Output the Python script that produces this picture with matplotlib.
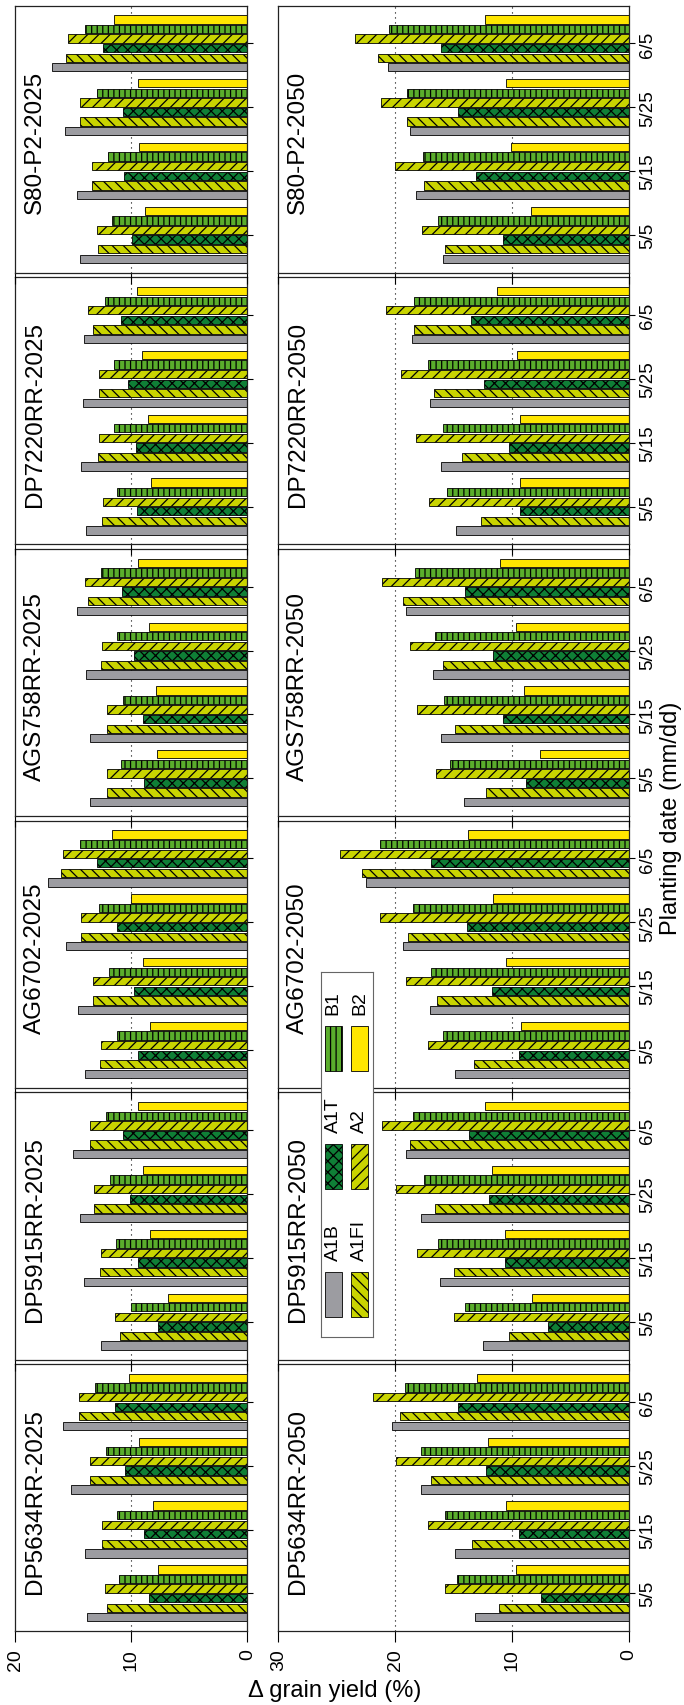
import matplotlib
matplotlib.use('Agg')
import matplotlib.pyplot as plt
from matplotlib.patches import Rectangle

plt.rcParams['font.family'] = ['Liberation Sans', 'DejaVu Sans']
plt.rcParams['hatch.linewidth'] = 0.9

# cultivars from left to right in the unrotated figure (bottom to top here)
cultivars = ['DP5634RR', 'DP5915RR', 'AG6702', 'AGS758RR', 'DP7220RR', 'S80-P2']
dates = ['5/5', '5/15', '5/25', '6/5']
scenarios = ['A1B', 'A1FI', 'A1T', 'A2', 'B1', 'B2']
years = ['2025', '2050']

# delta grain yield (%), one row per cultivar, one value per planting date
a1b_2025 = [[13.8, 14.0, 15.2, 15.9], [12.6, 14.1, 14.4, 15.0], [14.0, 14.6, 15.6, 17.2],
            [13.6, 13.6, 13.9, 14.7], [13.9, 14.3, 14.2, 14.1], [14.4, 14.7, 15.7, 16.8]]
a1fi_2025 = [[12.1, 12.5, 13.6, 14.5], [11.0, 12.7, 13.2, 13.6], [12.7, 13.3, 14.3, 16.1],
             [12.1, 12.1, 12.6, 13.7], [12.5, 12.9, 12.8, 13.3], [12.9, 13.4, 14.4, 15.6]]
a1t_2025 = [[8.5, 8.9, 10.5, 11.4], [7.7, 9.4, 10.1, 10.7], [9.4, 9.8, 11.2, 13.0],
            [8.9, 9.0, 9.8, 10.8], [9.5, 9.6, 10.3, 10.9], [9.9, 10.6, 10.7, 12.4]]
a2_2025 = [[12.3, 12.5, 13.6, 14.5], [11.4, 12.6, 13.2, 13.6], [12.6, 13.3, 14.3, 15.9],
           [12.1, 12.1, 12.5, 14.0], [12.4, 12.8, 12.8, 13.7], [13.0, 13.4, 14.4, 15.5]]
b1_2025 = [[11.1, 11.2, 12.2, 13.1], [10.0, 11.3, 11.8, 12.2], [11.2, 11.9, 12.8, 14.4],
           [10.9, 10.7, 11.2, 12.6], [11.2, 11.5, 11.5, 12.3], [11.7, 12.0, 13.0, 14.0]]
b2_2025 = [[7.7, 8.1, 9.3, 10.2], [6.8, 8.4, 9.0, 9.4], [8.4, 9.0, 10.0, 11.7],
           [7.8, 7.9, 8.5, 9.4], [8.3, 8.6, 9.1, 9.5], [8.8, 9.3, 9.4, 11.5]]

a1b_2050 = [[13.2, 14.9, 17.8, 20.3], [12.5, 16.2, 17.8, 19.1], [14.9, 17.0, 19.3, 22.5],
            [14.1, 16.1, 16.8, 19.1], [14.8, 16.1, 17.0, 18.6], [15.9, 18.2, 18.7, 20.6]]
a1fi_2050 = [[11.1, 13.4, 16.9, 19.6], [10.3, 15.0, 16.6, 18.7], [13.3, 16.4, 18.9, 22.8],
             [12.2, 14.9, 15.9, 19.3], [12.7, 14.3, 16.7, 18.4], [15.7, 17.5, 19.0, 21.5]]
a1t_2050 = [[7.5, 9.4, 12.2, 14.6], [6.9, 10.6, 12.0, 13.7], [9.4, 11.7, 13.9, 16.9],
            [8.8, 10.8, 11.6, 14.0], [9.3, 10.3, 12.4, 13.5], [10.8, 13.1, 14.6, 16.1]]
a2_2050 = [[15.7, 17.2, 19.9, 21.9], [15.0, 18.1, 19.9, 21.1], [17.2, 19.1, 21.3, 24.7],
           [16.5, 18.1, 18.7, 21.1], [17.1, 18.2, 19.5, 20.8], [17.7, 20.0, 21.2, 23.4]]
b1_2050 = [[14.7, 15.7, 17.8, 19.2], [14.0, 16.3, 17.5, 18.5], [15.9, 16.9, 18.5, 21.3],
           [15.3, 15.8, 16.6, 18.3], [15.6, 15.9, 17.2, 18.4], [16.3, 17.6, 19.0, 20.5]]
b2_2050 = [[9.7, 10.5, 12.1, 13.0], [8.3, 10.6, 11.7, 12.3], [9.2, 10.5, 11.6, 13.8],
           [7.6, 9.0, 9.7, 11.0], [9.3, 9.3, 9.6, 11.3], [8.4, 10.1, 10.5, 12.3]]

data = {'2025': [a1b_2025, a1fi_2025, a1t_2025, a2_2025, b1_2025, b2_2025],
        '2050': [a1b_2050, a1fi_2050, a1t_2050, a2_2050, b1_2050, b2_2050]}

colors = ['#9c9ca1', '#c9d400', '#0f7f36', '#c9d400', '#5aad2c', '#ffe600']
hatches = [None, '\\\\\\', 'xxx', '///', '|||', None]

W, H = 684, 1706
fig = plt.figure(figsize=(W / 100, H / 100), dpi=100)

# column layout in pixels: (left, width, max of value axis)
cols = {'2025': (15.3, 232.0, 20), '2050': (278.3, 350.7, 30)}
top_px, gap_px, ph = 6.5, 4.5, 267.2
step, bh = 0.15, 0.13


def draw_panel(ax, year, ci):
    xmax = cols[year][2]
    for j in range(len(scenarios)):
        vals = data[year][j][ci]
        ax.barh([d + (j - 2.5) * step for d in range(len(dates))], vals, height=bh,
                color=colors[j], hatch=hatches[j], edgecolor='black', linewidth=0.6, zorder=2)
    for v in range(10, xmax, 10):
        ax.axvline(v, color='black', linestyle=(0, (1, 3.5)), linewidth=0.8, zorder=0)
    ax.set_xlim(xmax, 0)
    ax.set_ylim(-0.594, 3.594)
    ax.set_xticks(range(0, xmax + 1, 10))
    ax.set_yticks(range(len(dates)))
    ax.yaxis.tick_right()
    ax.tick_params(axis='x', direction='out', length=8, width=0.8, top=False,
                   labelbottom=(ci == 0), labelsize=14, labelrotation=90, pad=4)
    ax.tick_params(axis='y', direction='out', length=4, width=0.8, left=False,
                   labelright=(year == '2050'), labelsize=13.5, labelrotation=90, pad=3.5)
    for lab in ax.get_yticklabels():
        lab.set_va('center')
    if year == '2050':
        ax.set_yticklabels(dates)
    for sp in ax.spines.values():
        sp.set_linewidth(0.9)
        sp.set_color('#222222')
    x0, w, _ = cols[year]
    ax.text(20.0 / w, 0.49, cultivars[ci] + '-' + year, rotation=90, fontsize=17.5,
            transform=ax.transAxes, ha='center', va='center')


for year in years:
    x0, w, _ = cols[year]
    for ci in range(len(cultivars)):
        r = len(cultivars) - 1 - ci
        y_top = top_px + r * (ph + gap_px)
        ax = fig.add_axes([x0 / W, 1 - (y_top + ph) / H, w / W, ph / H])
        draw_panel(ax, year, ci)

# legend, drawn rotated like the rest of the figure
lx0, lx1, ly0, ly1 = 320.6, 373.0, 973.0, 1338.0
lax = fig.add_axes([lx0 / W, 1 - ly1 / H, (lx1 - lx0) / W, (ly1 - ly0) / H])
lax.set_xlim(lx0, lx1)
lax.set_ylim(ly1, ly0)
lax.set_xticks([])
lax.set_yticks([])
for sp in lax.spines.values():
    sp.set_linewidth(0.8)
    sp.set_color('#666666')
row_x = [325.0, 351.5]
col_y = [1273.0, 1145.0, 1027.0]
for j, s in enumerate(scenarios):
    rx = row_x[j % 2]
    cy = col_y[j // 2]
    lax.add_patch(Rectangle((rx, cy), 16.5, 45, facecolor=colors[j], hatch=hatches[j],
                            edgecolor='black', linewidth=0.6))
    lax.text(rx + 8.25, cy - 12, s, rotation=90, fontsize=14, ha='center', va='bottom')

fig.text(334.5 / W, 1 - 1691 / H, '\u0394 grain yield (%)', ha='center', va='center', fontsize=17)
fig.text(671 / W, 1 - 818 / H, 'Planting date (mm/dd)', rotation=90, ha='center', va='center',
         fontsize=17)

plt.savefig('out.png', dpi=100)
